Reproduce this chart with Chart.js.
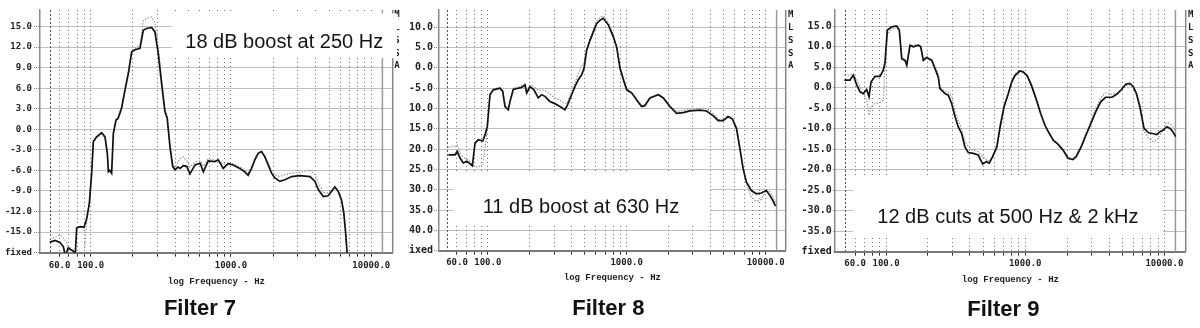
<!DOCTYPE html>
<html>
<head>
<meta charset="utf-8">
<script src="https://cdn.jsdelivr.net/npm/chart.js@4.4.1/dist/chart.umd.min.js"></script>
<style>
  body { margin: 0; background: #fff; }
  #wrap { position: relative; width: 1200px; height: 328px; overflow: hidden; }
  canvas { position: absolute; top: 0; }
</style>
</head>
<body>
<div id="wrap">
  <canvas id="filter7" width="400" height="328" style="left:0"></canvas>
  <canvas id="filter8" width="409" height="328" style="left:400px"></canvas>
  <canvas id="filter9" width="407" height="328" style="left:800px"></canvas>
</div>
<script>
// gridlines on the frequency axis, and the ones that carry a label
const gridFreqs = [60, 70, 80, 90, 100, 200, 300, 400, 500, 600, 700, 800, 900,
  1000, 2000, 3000, 4000, 5000, 6000, 7000, 8000, 9000, 10000];
const labelledFreqs = [60, 100, 1000, 10000];

// Filter 7: 18 dB boost at 250 Hz
const freq7 = [51, 55.6, 60.4, 63.8, 66, 69, 73, 75.5, 77.5, 79.4, 83.9, 89.6, 93.7, 97.8, 101.6, 104.4,
  110, 119.8, 126.5, 131.4, 133.6, 137, 141, 145, 151.5, 157, 166, 175.5, 185.5, 196, 207, 224.5, 237,
  250, 272, 287, 303, 320, 338, 351, 367, 384, 399, 420, 433, 458, 483, 510, 554, 603, 635, 688, 768,
  811, 880, 955, 1035, 1155, 1254, 1325, 1402, 1479, 1563, 1651, 1742, 1841, 1945, 2055, 2230, 2420,
  2705, 3100, 3660, 3970, 4190, 4550, 4930, 5210, 5500, 5810, 6135, 6370, 6540, 6720, 6900];
const solid7 = [-16.5, -16.2, -16.5, -17.1, -18.5, -17.3, -17.6, -17.8, -18.6, -14.4, -14.2, -14.3, -13.0,
  -10.8, -6.4, -1.8, -1.1, -0.5, -1.1, -3.5, -6.2, -6.0, -6.4, -0.6, 1.35, 1.6, 3.05, 5.7, 8.15, 11.3,
  11.6, 11.8, 14.45, 14.7, 14.85, 14.2, 11.05, 6.7, 2.6, 1.6, -2.5, -5.4, -5.9, -5.5, -5.7, -5.3, -5.4,
  -6.5, -5.2, -4.95, -6.2, -4.6, -4.7, -4.45, -5.7, -5.0, -5.2, -5.7, -6.2, -6.7, -5.7, -4.45, -3.5,
  -3.25, -4.0, -5.2, -6.4, -7.1, -7.6, -7.35, -6.9, -6.75, -6.9, -7.6, -8.8, -9.8, -9.7, -9.05, -8.4,
  -9.05, -10.3, -12.2, -14.7, -18, -21];
const dotted7 = [-16.0, -15.8, -15.4, -15.8, -16.2, -17.0, -17.5, -18.5, -19, -19, -19, -18.8, -13.5,
  -10.5, -6.0, -2.0, -1.3, -0.7, -1.3, -3.8, -6.0, -5.8, -6.2, -0.8, 1.2, 1.8, 3.4, 6.0, 8.6, 11.5,
  11.8, 12.3, 15.8, 16.2, 16.4, 15.6, 12.0, 7.5, 3.2, 2.0, -2.0, -5.0, -5.6, -4.8, -4.3, -4.0, -4.6,
  -5.5, -4.8, -4.6, -5.4, -4.3, -4.5, -4.6, -5.0, -5.2, -5.0, -5.5, -5.9, -6.3, -5.4, -4.3, -3.4,
  -3.2, -4.1, -5.0, -6.0, -6.6, -6.9, -6.6, -6.4, -6.3, -5.9, -6.6, -7.8, -9.2, -9.3, -8.9, -8.5,
  -9.0, -10.5, -12.5, -15, -18, -21];
const dbTicks7 = [-18, -15, -12, -9, -6, -3, 0, 3, 6, 9, 12, 15];

// Filter 8: 11 dB boost at 630 Hz
const freq8 = [52, 58, 60.3, 63.1, 66.6, 70.5, 74.5, 77.4, 80.9, 85.4, 91.9, 95.5, 99.2, 103.7, 109.5,
  122.4, 128, 133, 140.5, 144.5, 152.5, 165.8, 175.3, 185.3, 190.6, 201.4, 215, 230.8, 244, 258, 280,
  304, 331, 359, 373, 401, 424, 448, 474, 493, 515, 538, 575, 607, 641, 677, 737, 800, 848, 895, 947,
  1000, 1087, 1180, 1280, 1350, 1470, 1690, 1835, 2045, 2285, 2550, 2850, 3370, 3760, 4200, 4560,
  4950, 5370, 5780, 6180, 6530, 6890, 7270, 7900, 8580, 9310, 10110, 10800, 11400, 11790];
const solid8 = [-21.4, -21.4, -20.6, -22.2, -23.4, -23.0, -23.6, -24.1, -18.5, -17.7, -18.0, -16.5,
  -14.4, -6.6, -5.4, -5.0, -5.8, -9.5, -10.3, -8.3, -5.3, -5.0, -4.8, -4.2, -6.2, -4.6, -5.4, -7.4,
  -6.6, -7.0, -8.3, -8.8, -9.5, -10.3, -9.3, -6.6, -4.6, -2.9, -1.7, -0.1, 4.3, 6.3, 8.8, 10.9, 11.7,
  12.2, 10.6, 7.7, 5.0, -0.1, -2.9, -5.4, -6.2, -7.9, -9.5, -9.3, -7.4, -6.6, -7.4, -9.5, -11.2,
  -11.0, -10.6, -10.4, -10.6, -11.8, -13.0, -13.0, -12.0, -12.6, -15.0, -19.9, -24.8, -28.1, -30.2,
  -31.0, -30.8, -30.2, -31.5, -33.0, -34.0];
const dotted8 = [-19.5, -19.3, -19.0, -21.0, -22.0, -22.5, -23.0, -23.8, -24.3, -24.4, -23.8, -20.0,
  -15.0, -6.8, -5.2, -4.8, -5.6, -9.3, -10.0, -8.0, -5.0, -4.7, -4.3, -3.8, -5.6, -4.2, -4.6, -5.6,
  -5.4, -5.6, -6.4, -7.4, -8.0, -8.8, -8.6, -5.8, -3.6, -1.4, 0.6, 1.2, 4.8, 6.8, 9.4, 11.6, 12.4,
  12.8, 11.2, 8.3, 5.4, 0.3, -2.6, -5.2, -6.0, -7.6, -9.2, -9.0, -7.3, -6.5, -7.3, -9.3, -10.7,
  -10.5, -10.2, -9.9, -10.0, -11.2, -12.7, -12.8, -11.8, -12.4, -14.8, -19.7, -24.8, -28.5, -31.8,
  -32.8, -32.4, -30.0, -30.6, -32.0, -33.4];
const dbTicks8 = [-45, -40, -35, -30, -25, -20, -15, -10, -5, 0, 5, 10];

// Filter 9: 12 dB cuts at 500 Hz and 2 kHz
const freq9 = [50.2, 55.1, 58.2, 61.6, 65, 68.7, 72.6, 75.5, 78, 83.4, 90.5, 95.6, 98.4, 102.2, 109.9,
  119.3, 124.6, 129.7, 137, 141, 148.7, 157, 170.6, 177.5, 185.3, 196, 213, 225, 237.5, 244, 265,
  280, 296, 313, 330, 349, 369, 390, 423, 460, 495, 528, 551, 583, 625, 660, 704, 756, 800, 844, 915,
  965, 1033, 1110, 1206, 1295, 1389, 1466, 1590, 1726, 1871, 2028, 2200, 2325, 2526, 2735, 2965,
  3215, 3486, 3780, 4210, 4570, 4910, 5280, 5640, 5960, 6300, 6670, 7140, 7660, 8320, 8800, 9300,
  9830, 10400, 11000, 11480, 12050];
const solid9 = [1.9, 1.9, 3.1, 0.7, -1.0, -1.4, -0.4, -2.2, 1.4, 2.8, 2.8, 4.3, 6.3, 14.1, 14.9, 15.1,
  14.1, 7.1, 6.7, 5.5, 10.4, 10.0, 10.4, 10.0, 6.7, 7.4, 6.7, 4.7, 2.6, -0.2, -1.4, -1.8, -3.8, -7.0,
  -9.5, -11.1, -14.4, -15.8, -16.0, -16.4, -18.6, -18.0, -18.4, -16.8, -14.4, -9.5, -4.6, -1.4, 1.4,
  3.0, 4.1, 3.9, 3.0, 0.6, -3.0, -6.4, -9.2, -10.7, -12.8, -13.8, -15.2, -17.2, -17.5, -16.8, -14.4,
  -11.5, -8.7, -5.8, -3.4, -2.3, -2.3, -1.5, -0.4, 0.9, 1.1, 0.4, -1.4, -4.6, -9.9, -10.9, -11.2,
  -11.4, -10.7, -10.3, -9.5, -9.9, -10.7, -11.9];
const dotted9 = [3.1, 3.1, 3.3, 2.0, 0.2, -1.4, -3.0, -6.7, -4.6, -3.8, -3.6, -3.0, 5.0, 13.0, 14.4,
  14.6, 14.0, 7.8, 6.9, 6.2, 10.0, 10.4, 10.6, 10.2, 7.0, 7.6, 7.0, 5.2, 3.4, 0.2, -0.9, -1.0, -2.0,
  -5.8, -8.0, -10.0, -13.0, -14.4, -15.2, -15.6, -16.8, -17.6, -17.8, -17.2, -15.0, -10.5, -5.2, -1.6,
  1.8, 3.4, 4.3, 3.8, 2.7, 0.2, -3.4, -6.6, -9.4, -10.9, -12.9, -13.9, -15.0, -16.8, -17.3, -16.4,
  -14.0, -11.0, -8.0, -5.0, -2.4, -1.2, -1.6, -1.2, -0.6, 0.5, 0.7, 0.0, -1.8, -5.4, -10.6, -12.2,
  -13.2, -12.8, -11.6, -10.0, -8.4, -8.7, -9.6, -10.6];
const dbTicks9 = [-40, -35, -30, -25, -20, -15, -10, -5, 0, 5, 10, 15];

const monoFont = "'DejaVu Sans Mono', monospace";

// frame lines, analyzer letters and the note box drawn on top of the grid
const analyzerFrame = {
  id: 'analyzerFrame',
  beforeDatasetsDraw(chart, args, opts) {
    const { ctx, chartArea: a, scales: { x } } = chart;
    const vline = (px, color, width, dash) => {
      ctx.strokeStyle = color;
      ctx.lineWidth = width;
      ctx.setLineDash(dash);
      ctx.beginPath();
      ctx.moveTo(px, a.top);
      ctx.lineTo(px, a.bottom);
      ctx.stroke();
    };
    ctx.save();
    vline(Math.round(x.getPixelForValue(opts.marker)) + 0.5, '#555', 1, [2, 2]);
    vline(x.getPixelForValue(opts.limit), '#9a9a9a', 1.5, []);
    vline(a.right, '#858585', 1.5, []);
    ctx.restore();
  },
  afterDatasetsDraw(chart, args, opts) {
    const { ctx, chartArea: a, scales: { x, y } } = chart;
    ctx.save();
    ctx.fillStyle = '#222';
    ctx.font = 'bold 9px ' + monoFont;
    ctx.textAlign = 'center';
    ctx.textBaseline = 'middle';
    'MLSSA'.split('').forEach((ch, i) => ctx.fillText(ch, a.right + opts.lettersDx, 15 + i * 12.75));

    const n = opts.note;
    const x0 = x.getPixelForValue(n.f0), x1 = x.getPixelForValue(n.f1);
    const y0 = y.getPixelForValue(n.db0), y1 = y.getPixelForValue(n.db1);
    ctx.fillStyle = '#fff';
    ctx.fillRect(x0, y0, x1 - x0, y1 - y0);
    ctx.fillStyle = '#151515';
    ctx.font = "20px 'Liberation Sans', Arial, sans-serif";
    ctx.textAlign = 'left';
    ctx.textBaseline = 'alphabetic';
    ctx.fillText(n.text, x.getPixelForValue(n.f), y.getPixelForValue(n.db));
    ctx.restore();
  }
};

function makeChart(id, p) {
  const points = vals => p.freq.map((f, i) => ({ x: f, y: vals[i] }));
  return new Chart(document.getElementById(id), {
    type: 'line',
    plugins: [analyzerFrame],
    data: {
      datasets: [
        { data: points(p.solid), borderColor: '#121212', borderWidth: 1.7, pointRadius: 0, tension: 0 },
        { data: points(p.dotted), borderColor: '#8f8f8f', borderWidth: 1.1, borderDash: [1.5, 1.5],
          pointRadius: 0, tension: 0 }
      ]
    },
    options: {
      responsive: false,
      animation: false,
      devicePixelRatio: 1,
      events: [],
      layout: { padding: { top: 10, left: p.padLeft, right: p.padRight, bottom: p.padBottom } },
      plugins: {
        legend: { display: false },
        tooltip: { enabled: false },
        title: {
          display: true, text: p.title, position: 'bottom', color: '#111', padding: 0,
          font: { family: "'Liberation Sans', Arial, sans-serif", size: 22, weight: 'bold' }
        },
        analyzerFrame: { marker: 51, limit: 12000, lettersDx: p.lettersDx, note: p.note }
      },
      scales: {
        x: {
          type: 'logarithmic',
          min: p.fMin,
          max: p.fMax,
          afterBuildTicks: s => { s.ticks = gridFreqs.map(v => ({ value: v })); },
          afterFit: s => { s.height = p.xHeight; },
          grid: { color: '#707070', lineWidth: 1, tickLength: 4, tickColor: '#333', tickWidth: 1 },
          border: { display: true, color: '#7a7a7a', width: 2, dash: [1, 3] },
          ticks: {
            autoSkip: false, maxRotation: 0, padding: p.xTickPad, color: '#222',
            font: { family: monoFont, size: 9, weight: 'bold' },
            callback: v => labelledFreqs.includes(v) ? v.toFixed(1) : ''
          },
          title: {
            display: true, text: 'log Frequency - Hz', color: '#222',
            font: { family: "'Liberation Mono', monospace", size: 9, weight: 'bold' },
            padding: { top: 0, bottom: p.xTitlePad }
          }
        },
        y: {
          type: 'linear',
          min: p.dbMin,
          max: p.dbMax,
          afterBuildTicks: s => { s.ticks = p.dbTicks.map(v => ({ value: v })); },
          afterFit: s => { s.width = p.yWidth; },
          grid: { color: '#808080', lineWidth: 1, tickLength: p.yTickLen, tickColor: '#808080',
            tickBorderDash: [1, 1] },
          border: { display: true, color: '#8c8c8c', width: 1.5, dash: [1, 1] },
          ticks: {
            padding: p.yTickPad, color: '#222',
            font: { family: monoFont, size: p.yFont, weight: 'bold' },
            callback: v => v === p.dbMin ? 'fixed' : v.toFixed(1)
          }
        },
        // empty strip on the right that holds the analyzer letters
        side: {
          position: 'right',
          display: true,
          afterFit: s => { s.width = p.sideWidth; },
          grid: { display: false },
          border: { display: false },
          ticks: { display: false }
        }
      }
    }
  });
}

makeChart('filter7', {
  title: 'Filter 7', freq: freq7, solid: solid7, dotted: dotted7, dbTicks: dbTicks7,
  fMin: 43.51, fMax: 14210, dbMin: -18, dbMax: 17.4,
  padLeft: 0, padRight: 0, padBottom: 5.6, yWidth: 40, sideWidth: 7.3, xHeight: 43.3,
  yTickLen: 6, yTickPad: 2, yFont: 9, xTickPad: 3.9, xTitlePad: 8.9, lettersDx: 4.3,
  note: { text: '18 dB boost at 250 Hz', f0: 379, f1: 15240, db0: 16.9, db1: 10.4, f: 472, db: 11.8 }
});

makeChart('filter8', {
  title: 'Filter 8', freq: freq8, solid: solid8, dotted: dotted8, dbTicks: dbTicks8,
  fMin: 44.53, fMax: 13955, dbMin: -45, dbMax: 14.25,
  padLeft: 8, padRight: 0.4, padBottom: 5.6, yWidth: 31, sideWidth: 22.9, xHeight: 45.3,
  yTickLen: 5, yTickPad: 1, yFont: 10, xTickPad: 2.6, xTitlePad: 12.6, lettersDx: 5,
  note: { text: '11 dB boost at 630 Hz', f0: 56.2, f1: 3980, db0: -25.8, db1: -38.8, f: 91.9, db: -35.7 }
});

makeChart('filter9', {
  title: 'Filter 9', freq: freq9, solid: solid9, dotted: dotted9, dbTicks: dbTicks9,
  fMin: 43.0, fMax: 14225, dbMin: -40, dbMax: 19,
  padLeft: 0, padRight: 0.4, padBottom: 4.8, yWidth: 35, sideWidth: 20.9, xHeight: 45.1,
  yTickLen: 2, yTickPad: 1.3, yFont: 10, xTickPad: 2.2, xTitlePad: 11.4, lettersDx: 5,
  note: { text: '12 dB cuts at 500 Hz & 2 kHz', f0: 57.9, f1: 9750, db0: -22.0, db1: -36.4, f: 86.6, db: -33.1 }
});
</script>
</body>
</html>
